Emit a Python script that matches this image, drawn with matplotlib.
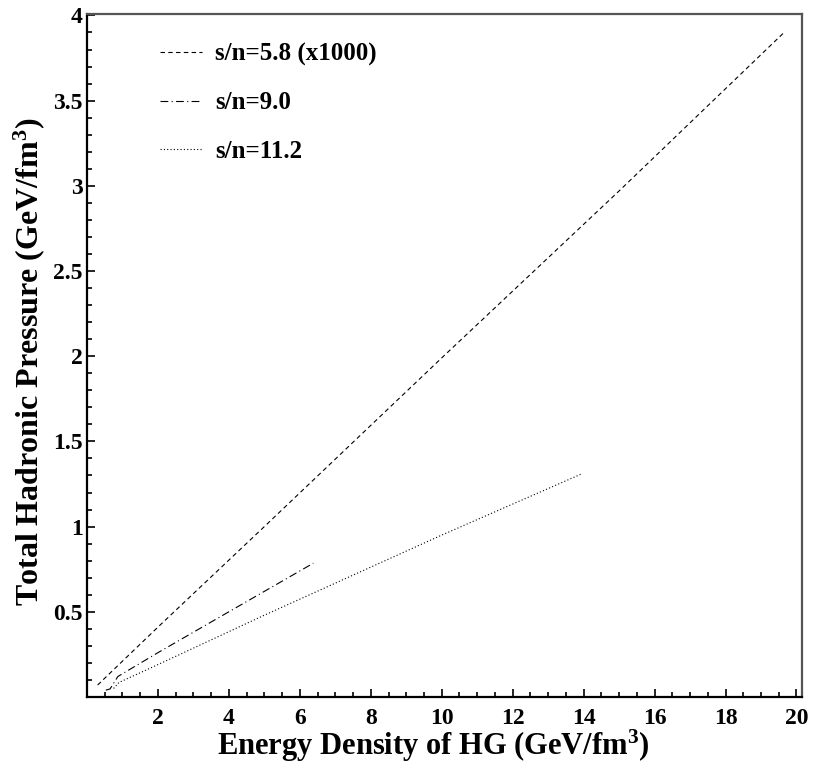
import matplotlib
matplotlib.use("Agg")

import matplotlib.pyplot as plt
from matplotlib.ticker import MultipleLocator

# pressure vs energy density of the hadron gas, three entropy-per-baryon values
e_58 = [0.30, 2.0, 5.0, 10.0, 15.0, 19.65]
p_58 = [0.07, 0.41, 1.00, 1.99, 2.97, 3.90]

e_90 = [0.53, 0.65, 0.87, 2.0, 4.0, 6.38]
p_90 = [0.04, 0.047, 0.12, 0.26, 0.50, 0.785]

e_112 = [0.75, 0.90, 2.0, 5.0, 10.0, 13.92]
p_112 = [0.05, 0.085, 0.19, 0.48, 0.95, 1.307]

labels = ["s/n=5.8 (x1000)", "s/n=9.0", "s/n=11.2"]
xticks = [2, 4, 6, 8, 10, 12, 14, 16, 18, 20]
yticks = [0.5, 1, 1.5, 2, 2.5, 3, 3.5, 4]
ytick_labels = ["0.5", "1", "1.5", "2", "2.5", "3", "3.5", "4"]

plt.rcParams["font.family"] = ["Liberation Serif", "DejaVu Serif"]
plt.rcParams["font.weight"] = "bold"
plt.rcParams["axes.labelweight"] = "bold"
plt.rcParams["mathtext.fontset"] = "custom"
plt.rcParams["mathtext.rm"] = "Liberation Serif:bold"
plt.rcParams["mathtext.bf"] = "Liberation Serif:bold"
plt.rcParams["mathtext.default"] = "bf"

fig = plt.figure(figsize=(8.16, 7.72), dpi=100)
ax = fig.add_axes([0.1066, 0.0972, 0.876, 0.885])

ax.plot(e_58, p_58, color="black", lw=0.8, dashes=(4, 3), label=labels[0])
ax.plot(e_90, p_90, color="black", lw=0.8, dashes=(7, 3, 1, 3), label=labels[1])
ax.plot(e_112, p_112, color="black", lw=0.8, dashes=(1, 2), label=labels[2])

ax.set_xlim(0, 20.15)
ax.set_ylim(0, 4.01)
ax.set_xticks(xticks)
ax.set_xticklabels([str(t) for t in xticks])
ax.set_yticks(yticks)
ax.set_yticklabels(ytick_labels)
ax.xaxis.set_minor_locator(MultipleLocator(0.5))
ax.yaxis.set_minor_locator(MultipleLocator(0.1))
ax.tick_params(which="both", direction="in", labelsize=17, width=1.2)
ax.tick_params(which="major", length=6)
ax.tick_params(which="minor", length=3.5)
ax.tick_params(axis="x", which="major", pad=8)
ax.tick_params(axis="y", which="major", pad=3)

for side in ("left", "bottom"):
    ax.spines[side].set_linewidth(1.6)
for side in ("top", "right"):
    ax.spines[side].set_linewidth(1.6)
    ax.spines[side].set_color("#555555")

ax.set_xlabel(r"Energy Density of HG (GeV/fm$^{3}$)", fontsize=22,
              fontweight="bold")
ax.set_ylabel(r"Total Hadronic Pressure (GeV/fm$^{3}$)", fontsize=23,
              fontweight="bold")
ax.xaxis.set_label_coords(0.484, -0.045)
ax.yaxis.set_label_coords(-0.056, 0.49)

ax.legend(loc="upper left", bbox_to_anchor=(0.102, 0.958), frameon=False,
          prop={"size": 18, "weight": "bold"}, handlelength=1.7,
          handletextpad=0.5, labelspacing=1.02, borderpad=0,
          borderaxespad=0)

fig.savefig("out.png", dpi=100)
